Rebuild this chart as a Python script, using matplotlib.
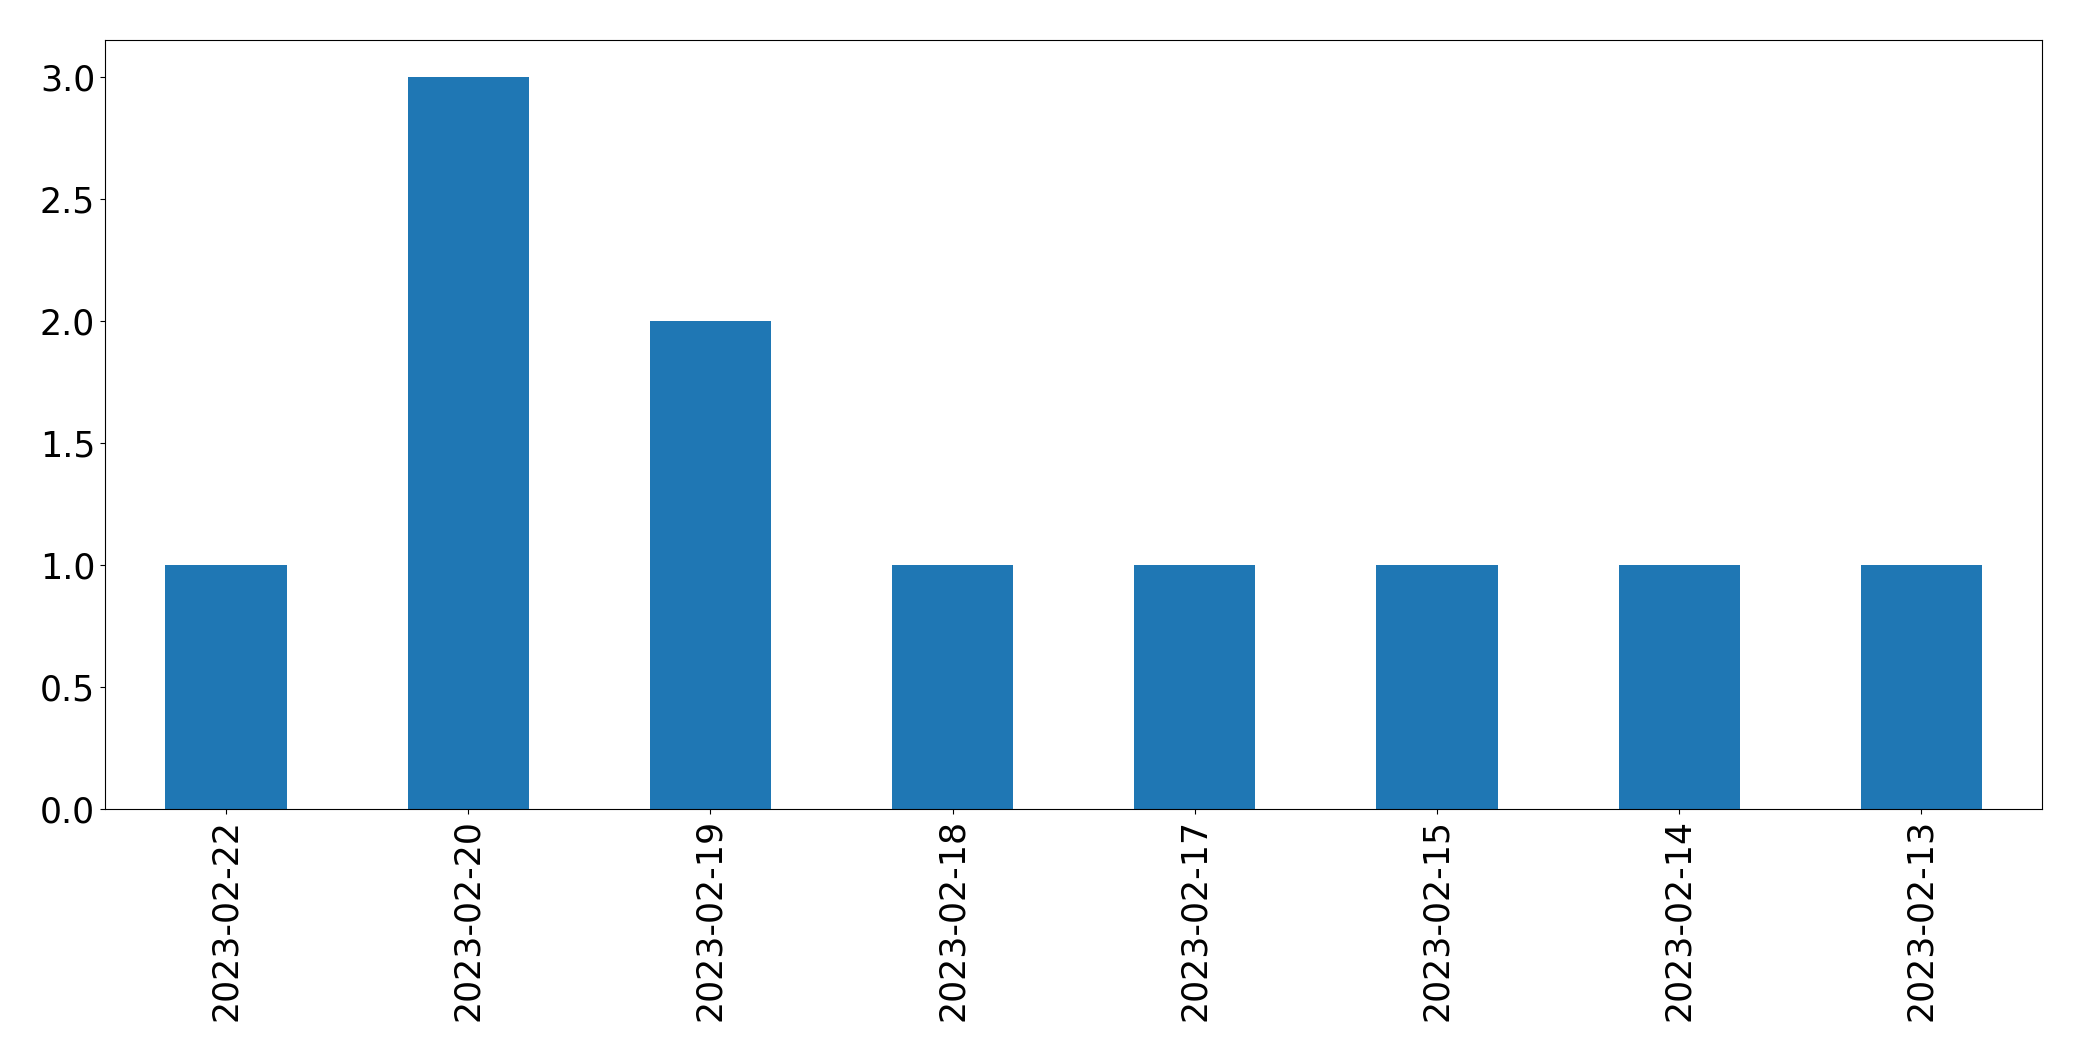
import matplotlib
matplotlib.use("Agg")
import matplotlib.pyplot as plt
import pandas as pd

dates = ["2023-02-22", "2023-02-20", "2023-02-19", "2023-02-18",
         "2023-02-17", "2023-02-15", "2023-02-14", "2023-02-13"]
counts = [1, 3, 2, 1, 1, 1, 1, 1]

s = pd.Series(counts, index=dates)
fig, ax = plt.subplots(figsize=(20.82, 10.61), dpi=100)
s.plot.bar(ax=ax, color="#1f77b4", width=0.5)
ax.tick_params(axis="both", labelsize=25)
fig.subplots_adjust(left=0.0504, right=0.981, top=0.962, bottom=0.2375)
fig.savefig("out.png", dpi=100)
